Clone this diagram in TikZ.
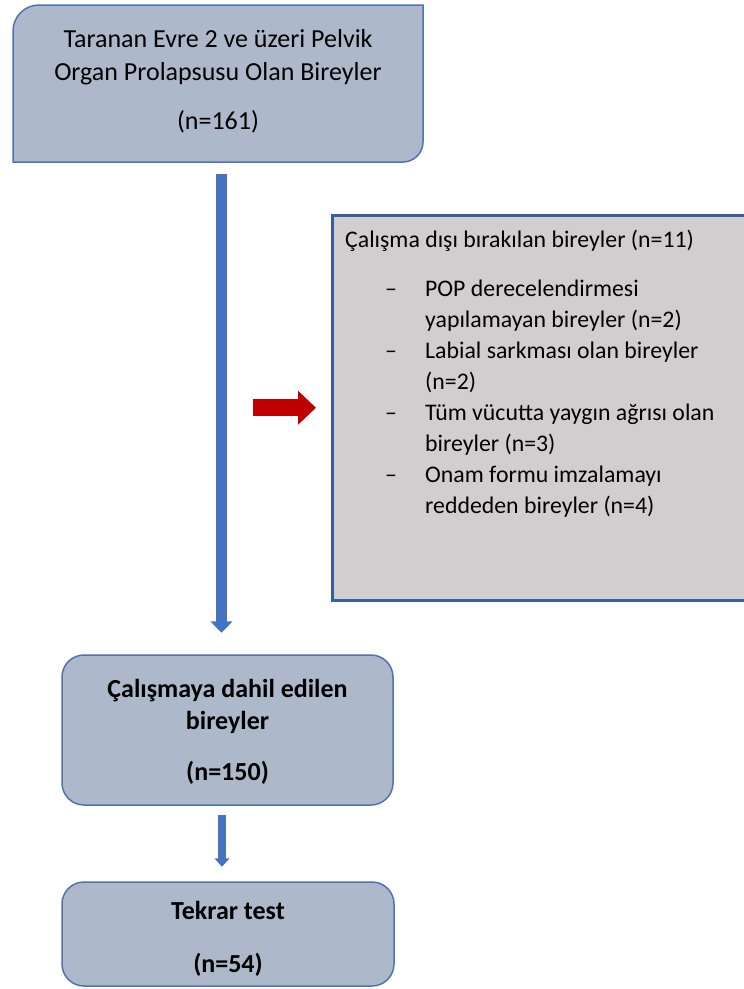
\documentclass[tikz,border=0pt]{standalone}
\usepackage{fontspec}
\setmainfont{Carlito}
\usetikzlibrary{positioning}
\usetikzlibrary{arrows.meta}
\definecolor{boxfill}{HTML}{ADB9CA}
\definecolor{boxline}{HTML}{4F73B0}
\definecolor{greyfill}{HTML}{D0CECE}
\definecolor{greyline}{HTML}{3A5E9C}
\definecolor{flowblue}{HTML}{4472C4}
\definecolor{flowred}{HTML}{C00000}
\tikzset{
    stepbox/.style={draw=boxline, fill=boxfill, line width=1.5pt, rounded corners=22pt, inner sep=0pt},
    steptext/.style={font=\fontsize{26}{32.5}\selectfont\bfseries, align=center, inner sep=0pt},
    snipbox/.style={draw=boxline, fill=boxfill, line width=1.5pt},
    exclbox/.style={draw=greyline, fill=greyfill, line width=2.5pt, inner sep=0pt},
    boxtext/.style={font=\fontsize{26}{33}\selectfont, align=center, inner sep=0pt},
    listtext/.style={font=\fontsize{23.8}{31}\selectfont, align=left, inner sep=0pt},
    arrowrim/.style={boxline, line width=10.5pt, shorten <=-0.75pt,
        -{Triangle[width=21.5pt,length=11.5pt]}},
    bluearrow/.style={flowblue, line width=9pt, -{Triangle[width=19pt,length=10pt]}},
    smallrim/.style={boxline, line width=7.5pt, shorten <=-0.75pt,
        -{Triangle[width=14.5pt,length=8.5pt]}},
    smallarrow/.style={flowblue, line width=6pt, -{Triangle[width=12pt,length=7pt]}},
    redarrow/.style={flowred, line width=17pt, -{Triangle[width=33pt,length=18pt]}},
}
\newcommand{\dashitem}{\makebox[40pt][l]{}\makebox[40pt][l]{--}}
\newcommand{\dashcont}{\hspace*{80pt}}

\begin{document}
\begin{tikzpicture}[x=1pt,y=-1pt]
\useasboundingbox (0,0) rectangle (744,989);
\clip (0,0) rectangle (744,989);

%SCREENED
\draw[snipbox] (13,162) -- (13,31) .. controls (13,16.6) and (24.6,5) .. (39,5)
    -- (423,5) -- (423,142) .. controls (423,153) and (414,162) .. (403,162) -- cycle;
\node[minimum width=410pt, minimum height=157pt, inner sep=0pt] (screened) at (218,83.5) {};
\node[boxtext] (screenedtext) at (218,81) {Taranan Evre 2 ve üzeri Pelvik\\
    Organ Prolapsusu Olan Bireyler\\[16pt](n=161)};

%EXCLUDED
\node[exclbox, minimum width=430pt, minimum height=385pt, anchor=north west]
    (excluded) at (331,214) {};
\node[listtext, anchor=north west] (exclist) at ([xshift=14pt,yshift=-16pt]excluded.north west)
    {Çalışma dışı bırakılan bireyler (n=11)\\[18pt]
    \dashitem POP derecelendirmesi\\
    \dashcont yapılamayan bireyler (n=2)\\
    \dashitem Labial sarkması olan bireyler\\
    \dashcont (n=2)\\
    \dashitem Tüm vücutta yaygın ağrısı olan\\
    \dashcont bireyler (n=3)\\
    \dashitem Onam formu imzalamayı\\
    \dashcont reddeden bireyler (n=4)};

%INCLUDED AND RETEST
\node[stepbox, minimum width=331pt, minimum height=150pt] (included) at (227.5,730) {};
\node[steptext] (includedtext) at ([yshift=-1.5pt]included.center)
    {Çalışmaya dahil edilen\\bireyler\\[18pt](n=150)};
\node[stepbox, minimum width=332pt, minimum height=104pt] (retest) at (228,934) {};
\node[steptext] (retesttext) at ([yshift=-5pt]retest.center) {Tekrar test\\[20pt](n=54)};

%ARROWS
\draw[arrowrim] ([xshift=3.5pt,yshift=-13pt]screened.south) -- ([xshift=-6pt,yshift=21.5pt]included.north);
\draw[bluearrow] ([xshift=3.5pt,yshift=-13pt]screened.south) -- ([xshift=-6pt,yshift=22pt]included.north);
\draw[redarrow] ([xshift=-78pt]excluded.west) -- ([xshift=-15pt]excluded.west);
\draw[smallrim] ([xshift=-5.5pt,yshift=-10pt]included.south) -- ([xshift=-6pt,yshift=14.5pt]retest.north);
\draw[smallarrow] ([xshift=-5.5pt,yshift=-10pt]included.south) -- ([xshift=-6pt,yshift=15pt]retest.north);
\end{tikzpicture}
\end{document}
